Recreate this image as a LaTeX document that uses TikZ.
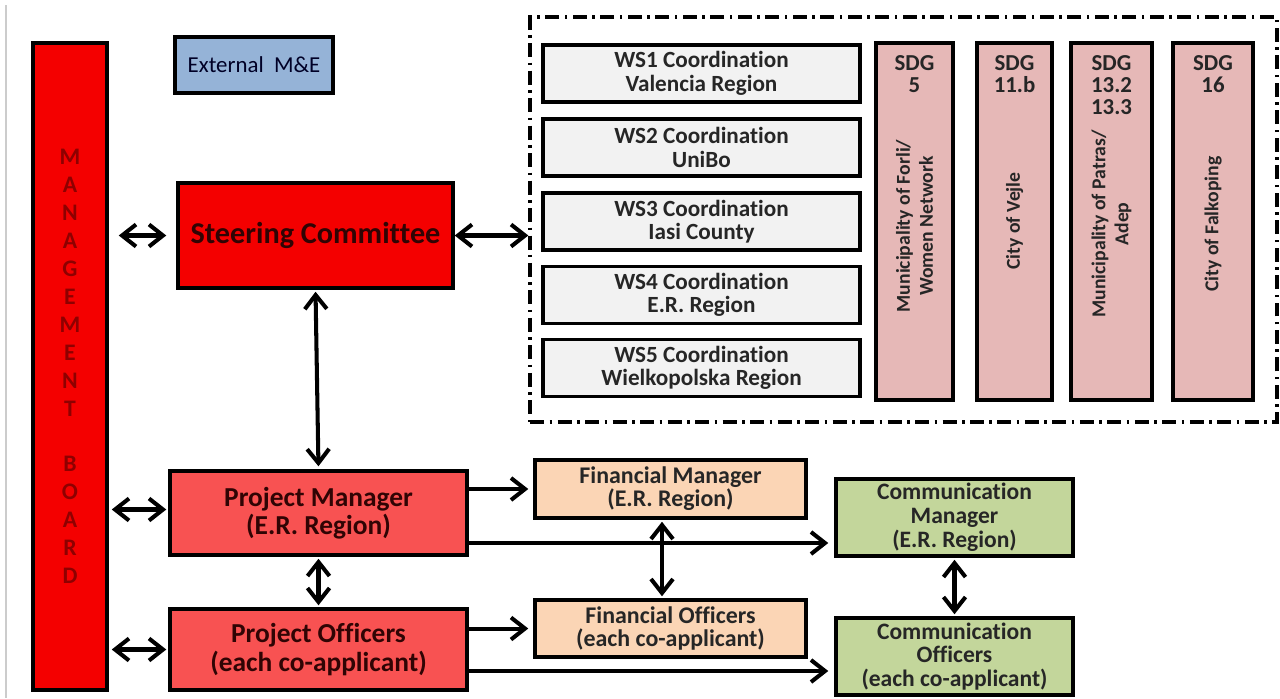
\documentclass[tikz,border=0pt]{standalone}
\usepackage{fontspec}
\setmainfont{Carlito}[Ligatures=NoCommon]
\usetikzlibrary{arrows.meta}

\definecolor{boardred}{HTML}{F40000}
\definecolor{letterred}{HTML}{8E0000}
\definecolor{pmred}{HTML}{F85252}
\definecolor{finpeach}{HTML}{FBD5B5}
\definecolor{comgreen}{HTML}{C3D69B}
\definecolor{sdgpink}{HTML}{E6B8B7}
\definecolor{wsgray}{HTML}{F2F2F2}
\definecolor{extblue}{HTML}{95B3D7}
\definecolor{darktext}{HTML}{300404}

\begin{document}
\begin{tikzpicture}[
    x=0.02cm, y=-0.02cm,
    >={Straight Barb[length=2.8mm,width=4.4mm]},
    box/.style={
      draw,
      line width=2pt,
      rectangle,
      align=center,
      inner sep=0pt,
      font=\bfseries
    },
    wsbox/.style={box, fill=wsgray, text=black!85,
      minimum width=6.34cm, minimum height=1.14cm,
      font=\bfseries\fontsize{13.2}{13.4}\selectfont},
    sdgcol/.style={box, fill=sdgpink, minimum height=7.14cm},
    sdgtop/.style={anchor=north, align=center, text=black!85,
      font=\bfseries\fontsize{13}{12.4}\selectfont},
    sdgname/.style={rotate=90, align=center, text=black!85,
      font=\bfseries\fontsize{11.2}{13}\selectfont},
    redbox/.style={box, fill=pmred, text=darktext,
      minimum width=5.94cm, font=\bfseries\fontsize{15.6}{16.2}\selectfont},
    finbox/.style={box, fill=finpeach, text=black!85,
      minimum width=5.42cm, font=\bfseries\fontsize{13.6}{13.2}\selectfont},
    combox/.style={box, fill=comgreen, text=black!85,
      minimum width=4.74cm, minimum height=1.54cm,
      font=\bfseries\fontsize{13.4}{13.6}\selectfont},
    link/.style={line width=2.3pt}
  ]

  \useasboundingbox (0,0) rectangle (1280,698);
  \draw[black!20, line width=0.6pt] (6,5) -- (6,698);

  % board and steering
  \node[box, fill=boardred, minimum width=1.48cm, minimum height=12.94cm,
    text=letterred, font=\bfseries\fontsize{13.5}{15.9}\selectfont]
    (mb) at (70,366.5) {M\\A\\N\\A\\G\\E\\M\\E\\N\\T\\[15.9pt]B\\O\\A\\R\\D};
  \node[box, fill=extblue, minimum width=3.16cm, minimum height=1.12cm,
    text=black!75!blue!60!black, font=\fontsize{13}{14}\selectfont]
    (ext) at (254,65) {External\ \ M\&E};
  \node[box, fill=boardred, minimum width=5.5cm, minimum height=2.1cm,
    text=darktext, font=\bfseries\fontsize{17.2}{18}\selectfont]
    (sc) at (315.5,235.5) {Steering Committee};

  % work strands and SDGs
  \node[draw, line width=2pt, dash pattern=on 2.8mm off 1.1mm on 0.5mm off 1.1mm,
    minimum width=14.94cm, minimum height=8.1cm] (grp) at (903.5,219.5) {};

  \node[wsbox] (ws1) at (701.5,73.5) {WS1 Coordination\\Valencia Region};
  \node[wsbox] (ws2) at (701.5,147.5) {WS2 Coordination\\UniBo};
  \node[wsbox] (ws3) at (701.5,221.5) {WS3 Coordination\\Iasi County};
  \node[wsbox] (ws4) at (701.5,295) {WS4 Coordination\\E.R. Region};
  \node[wsbox] (ws5) at (701.5,368) {WS5 Coordination\\Wielkopolska Region};

  \node[sdgcol, minimum width=1.54cm] (sdg1) at (914.5,221.5) {};
  \node[sdgcol, minimum width=1.5cm] (sdg2) at (1014.5,221.5) {};
  \node[sdgcol, minimum width=1.62cm] (sdg3) at (1111.5,221.5) {};
  \node[sdgcol, minimum width=1.6cm] (sdg4) at (1213,221.5) {};

  \node[sdgtop] (sdg1t) at ([yshift=-0.16cm]sdg1.north) {SDG\\5};
  \node[sdgtop] (sdg2t) at ([yshift=-0.16cm]sdg2.north) {SDG\\11.b};
  \node[sdgtop] (sdg3t) at ([yshift=-0.16cm]sdg3.north) {SDG\\13.2\\13.3};
  \node[sdgtop] (sdg4t) at ([yshift=-0.16cm]sdg4.north) {SDG\\16};

  \node[sdgname] (sdg1n) at (914.5,226) {Municipality of Forli/\\Women Network};
  \node[sdgname] (sdg2n) at (1014.5,221) {City of Vejle};
  \node[sdgname] (sdg3n) at (1111.5,224) {Municipality of Patras/\\Adep};
  \node[sdgname] (sdg4n) at (1213,224) {City of Falkoping};

  % management line
  \node[redbox, minimum height=1.68cm] (pm) at (318.5,513) {Project Manager\\(E.R. Region)};
  \node[redbox, minimum height=1.62cm] (po) at (318.5,649.5) {Project Officers\\(each co-applicant)};

  \node[finbox, minimum height=1.16cm] (fm) at (670.5,489) {Financial Manager\\(E.R. Region)};
  \node[finbox, minimum height=1.14cm] (fo) at (670.5,628.5) {Financial Officers\\(each co-applicant)};

  \node[combox] (cm) at (954.5,517.5) {Communication\\Manager\\(E.R. Region)};
  \node[combox] (co) at (954.5,656.5) {Communication\\Officers\\(each co-applicant)};

  \draw[link, <->, shorten <=0.2cm, shorten >=0.2cm] (mb.east |- sc.west) -- (sc.west);
  \draw[link, <->] (sc.east) -- (grp.west |- sc.east);
  \draw[link, <->, shorten <=0.04cm, shorten >=0.06cm] (sc.south) -- (pm.north);

  \draw[link, <->, shorten <=0.06cm, shorten >=0.04cm] ([yshift=0.07cm]mb.east |- pm.west) -- ([yshift=0.07cm]pm.west);
  \draw[link, <->, shorten <=0.06cm, shorten >=0.04cm] (mb.east |- po.west) -- (po.west);
  \draw[link, <->, shorten <=0.04cm, shorten >=0.04cm] (pm.south) -- (po.north);

  \draw[link, ->, shorten >=0.1cm] (pm.east |- fm.west) -- (fm.west);
  \draw[link, ->, shorten >=0.12cm] ([yshift=-0.6cm]pm.east) -- ([yshift=-0.6cm]pm.east -| cm.west);
  \draw[link, ->, shorten >=0.1cm] ([yshift=0.42cm]po.east) -- ([yshift=0.42cm]po.east -| fo.west);
  \draw[link, ->, shorten >=0.12cm] ([yshift=-0.43cm]po.east) -- ([yshift=-0.43cm]po.east -| co.west);

  \draw[link, <->, shorten <=0.04cm, shorten >=0.04cm] ([xshift=-0.17cm]fm.south) -- ([xshift=-0.17cm]fo.north);
  \draw[link, <->, shorten <=0.04cm, shorten >=0.04cm] (cm.south) -- (co.north);

\end{tikzpicture}
\end{document}
